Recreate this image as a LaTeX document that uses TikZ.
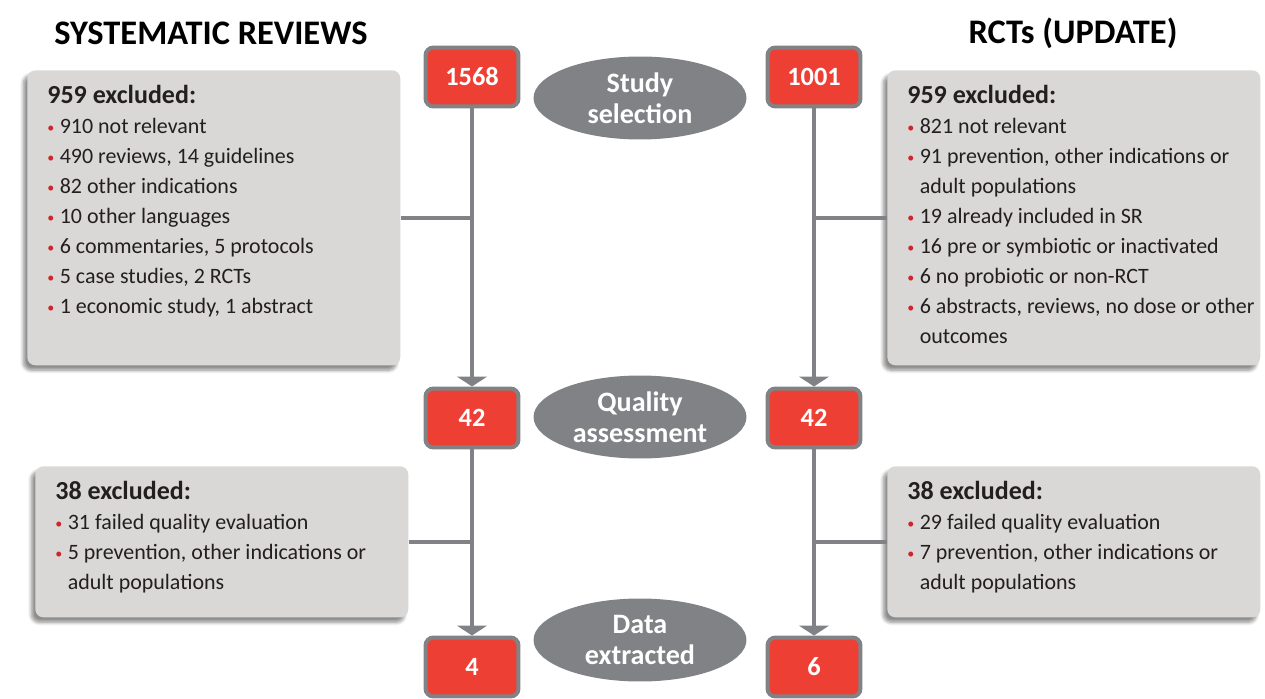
\documentclass[tikz,border=0pt]{standalone}
\usepackage{fontspec}
\setmainfont{Carlito}
\usetikzlibrary{positioning}
\usetikzlibrary{shapes.geometric}
\usetikzlibrary{arrows.meta}
\usetikzlibrary{shadows.blur}

\definecolor{boxred}{HTML}{EE3F34}
\definecolor{flowgray}{HTML}{808285}
\definecolor{panelgray}{HTML}{D9D8D6}
\definecolor{inkgray}{HTML}{231F20}
\definecolor{dotred}{HTML}{D2232A}

% bullet item and continuation line inside the exclusion panels
\newcommand{\itm}{\makebox[0.25cm][l]{\textcolor{dotred}{\footnotesize\raisebox{0.1em}{\textbullet}}}}
\newcommand{\cnt}{\hspace*{0.25cm}}
\newcommand{\exhead}[1]{{\bfseries\fontsize{14.8}{17.07}\selectfont #1}}

\begin{document}
\begin{tikzpicture}[
         x=0.02cm, y=-0.02cm,
         count/.style = {rectangle, rounded corners=0.16cm, fill=boxred,
         draw=flowgray, line width=0.08cm, minimum width=1.86cm,
         minimum height=1.18cm, text=white,
         font=\bfseries\fontsize{15}{18}\selectfont},
         stage/.style = {ellipse, fill=flowgray, minimum width=4.26cm,
         minimum height=1.66cm, inner sep=0pt, text=white, align=center,
         font=\bfseries\fontsize{16}{17.6}\selectfont},
         panel/.style = {rectangle, rounded corners=0.16cm, fill=panelgray,
         minimum width=7.46cm, anchor=north west,
         blur shadow={shadow xshift=-0.08cm, shadow yshift=-0.1cm,
         shadow blur steps=6, shadow opacity=45}},
         panel text/.style = {anchor=north west, align=left, inner sep=0pt,
         text=inkgray, font=\fontsize{12.5}{17.07}\selectfont},
         heading/.style = {font=\bfseries\fontsize{19.6}{22}\selectfont},
         flow/.style = {draw=flowgray, line width=0.08cm},
         arrowed/.style = {flow, -{Triangle[width=0.6cm, length=0.2cm]}}
]
      \useasboundingbox (0,0) rectangle (1265,699);

      % exclusion panels
      \node[panel, minimum height=5.9cm]  (exclA) at (27,70)  {};
      \node[panel, minimum height=5.9cm]  (exclB) at (887,70) {};
      \node[panel, minimum height=3.02cm] (exclC) at (35,466) {};
      \node[panel, minimum height=3.02cm] (exclD) at (887,466) {};

      % column headings
      \node[heading] (headA) at (211,33)  {SYSTEMATIC REVIEWS};
      \node[heading] (headB) at (1073,33) {RCTs (UPDATE)};

      % study counts
      \node[count] (n1568) at (472,77)  {1568};
      \node[count] (n1001) at (814,77)  {1001};
      \node[count] (n42a)  at (472,418) {42};
      \node[count] (n42b)  at (814,418) {42};
      \node[count] (n4)    at (472,667) {4};
      \node[count] (n6)    at (814,667) {6};

      % stages
      \node[stage] (sel)  at (640,98)  {Study\\selection};
      \node[stage] (qual) at (640,417) {Quality\\assessment};
      \node[stage] (data) at (640,640) {Data\\extracted};

      % vertical flow
      \draw[arrowed] (n1568) -- (n42a);
      \draw[arrowed] (n42a)  -- (n4);
      \draw[arrowed] (n1001) -- (n42b);
      \draw[arrowed] (n42b)  -- (n6);

      % branches to the panels
      \draw[flow] (exclA.east) -- (exclA.east -| n1568.south);
      \draw[flow] (exclC.east) -- (exclC.east -| n42a.south);
      \draw[flow] (exclB.west) -- (exclB.west -| n1001.south);
      \draw[flow] (exclD.west) -- (exclD.west -| n42b.south);

      % panel contents
      \node[panel text] (listA) at (47,85) {%
         \exhead{959 excluded:}\\
         \itm 910 not relevant\\
         \itm 490 reviews, 14 guidelines\\
         \itm 82 other indications\\
         \itm 10 other languages\\
         \itm 6 commentaries, 5 protocols\\
         \itm 5 case studies, 2 RCTs\\
         \itm 1 economic study, 1 abstract};

      \node[panel text] (listB) at (907,85) {%
         \exhead{959 excluded:}\\
         \itm 821 not relevant\\
         \itm 91 prevention, other indications or\\
         \cnt adult populations\\
         \itm 19 already included in SR\\
         \itm 16 pre or symbiotic or inactivated\\
         \itm 6 no probiotic or non-RCT\\
         \itm 6 abstracts, reviews, no dose or other\\
         \cnt outcomes};

      \node[panel text] (listC) at (55,481) {%
         \exhead{38 excluded:}\\
         \itm 31 failed quality evaluation\\
         \itm 5 prevention, other indications or\\
         \cnt adult populations};

      \node[panel text] (listD) at (907,481) {%
         \exhead{38 excluded:}\\
         \itm 29 failed quality evaluation\\
         \itm 7 prevention, other indications or\\
         \cnt adult populations};
\end{tikzpicture}
\end{document}
